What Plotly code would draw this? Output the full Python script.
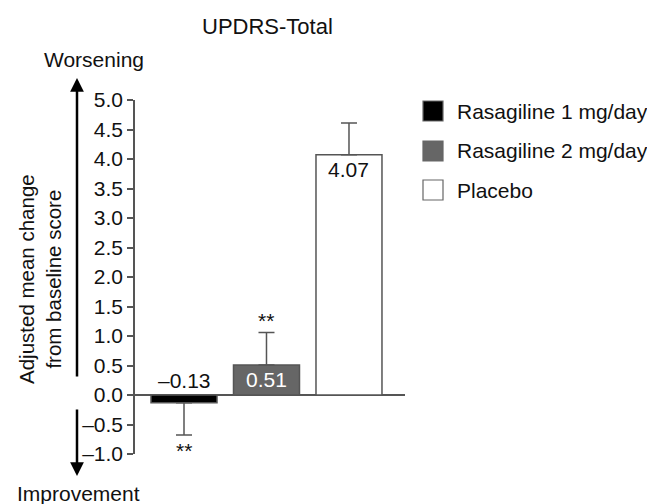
import plotly.graph_objects as go

# ---- data ----
groups = ["Rasagiline 1 mg/day", "Rasagiline 2 mg/day", "Placebo"]
means = [-0.13, 0.51, 4.07]
err_up = [0.0, 0.55, 0.54]
err_down = [0.55, 0.0, 0.0]
value_labels = ["–0.13", "0.51", "4.07"]
sig_labels = ["**", "**", ""]
tick_vals = [-1.0, -0.5, 0.0, 0.5, 1.0, 1.5, 2.0, 2.5, 3.0, 3.5, 4.0, 4.5, 5.0]
tick_text = ["–1.0", "–0.5", "0.0", "0.5", "1.0", "1.5", "2.0", "2.5", "3.0", "3.5", "4.0", "4.5", "5.0"]

fills = ["#000000", "#666666", "#ffffff"]
label_colors = ["#111111", "#ffffff", "#111111"]
FONT = "Liberation Sans, Arial, Helvetica, sans-serif"
GRAY = "#555555"

W, H = 647, 504
L, R, T, B = 135, 242, 100, 50
PW, PH = W - L - R, H - T - B


def px_x(px):
    return (px - L) / PW


def px_y(py):
    return (H - B - py) / PH


def txt(x, y, text, size=21, color="#111", **kw):
    d = dict(x=px_x(x), y=px_y(y), xref="paper", yref="paper", text=text, showarrow=False,
             xanchor="center", yanchor="middle", font=dict(size=size, color=color, family=FONT))
    d.update(kw)
    return d


fig = go.Figure()
xs = list(range(len(groups)))
fig.add_trace(go.Bar(
    x=xs, y=means, width=0.8,
    marker=dict(color=fills, line=dict(color=GRAY, width=1.5)),
    error_y=dict(type="data", symmetric=False, array=err_up, arrayminus=err_down,
                 color=GRAY, thickness=1.5, width=8),
    showlegend=False, hoverinfo="skip",
))

ann = []
# value labels
for i, (m, lab) in enumerate(zip(means, value_labels)):
    base = 0 if m < 0 else m
    shift = 15 if m < 0 else -15
    ann.append(dict(x=i, y=base, xref="x", yref="y", text=lab, showarrow=False,
                    xanchor="center", yanchor="middle", yshift=shift,
                    font=dict(size=21, color=label_colors[i], family=FONT)))
# significance
for i, (m, s) in enumerate(zip(means, sig_labels)):
    if not s:
        continue
    if m < 0:
        ann.append(dict(x=i, y=m - err_down[i], xref="x", yref="y", text=s, showarrow=False,
                        xanchor="center", yanchor="middle", yshift=-15,
                        font=dict(size=21, color="#111", family=FONT)))
    else:
        ann.append(dict(x=i, y=m + err_up[i], xref="x", yref="y", text=s, showarrow=False,
                        xanchor="center", yanchor="middle", yshift=12,
                        font=dict(size=21, color="#111", family=FONT)))

# title & side texts
ann.append(txt(267, 26, "UPDRS-Total", size=22))
ann.append(txt(94, 59, "Worsening"))
ann.append(txt(78, 493, "Improvement"))
ann.append(txt(40, 279, "Adjusted mean change<br>from baseline score", size=20.5, textangle=-90))
# arrows (head at x,y; tail offset in pixels)
ann.append(dict(x=px_x(77), y=px_y(78), ax=0, ay=378 - 78, xref="paper", yref="paper",
                axref="pixel", ayref="pixel", text="", showarrow=True, arrowhead=2,
                arrowsize=1.1, arrowwidth=2.5, arrowcolor="#000"))
ann.append(dict(x=px_x(77), y=px_y(476), ax=0, ay=408 - 476, xref="paper", yref="paper",
                axref="pixel", ayref="pixel", text="", showarrow=True, arrowhead=2,
                arrowsize=1.1, arrowwidth=2.5, arrowcolor="#000"))

# manual legend
shapes = []
row_y = [111, 151, 190]
for g, f, yy in zip(groups, fills, row_y):
    shapes.append(dict(type="rect", xref="paper", yref="paper",
                       x0=px_x(423), x1=px_x(443), y0=px_y(yy + 10), y1=px_y(yy - 10),
                       fillcolor=f, line=dict(color="#666", width=1.2)))
    ann.append(txt(455, yy, g, size=21, xanchor="left"))

fig.update_layout(
    width=W, height=H,
    margin=dict(l=L, r=R, t=T, b=B, pad=0),
    paper_bgcolor="white", plot_bgcolor="white",
    font=dict(family=FONT, size=21, color="#111"),
    xaxis=dict(range=[-0.594, 2.679], showticklabels=False, ticks="", showline=False,
               showgrid=False, zeroline=False, fixedrange=True),
    yaxis=dict(range=[-1.0, 5.0], tickvals=tick_vals, ticktext=tick_text, ticks="outside",
               ticklen=6, tickwidth=1.5, tickcolor=GRAY, showline=True, linecolor=GRAY,
               linewidth=1.5, showgrid=False, zeroline=True, zerolinecolor=GRAY,
               zerolinewidth=1.5, tickfont=dict(size=21, color="#111", family=FONT)),
    annotations=ann, shapes=shapes, showlegend=False,
)

fig.write_html("out.html", post_script="document.body.style.margin='0';",
               config={"displayModeBar": False})
